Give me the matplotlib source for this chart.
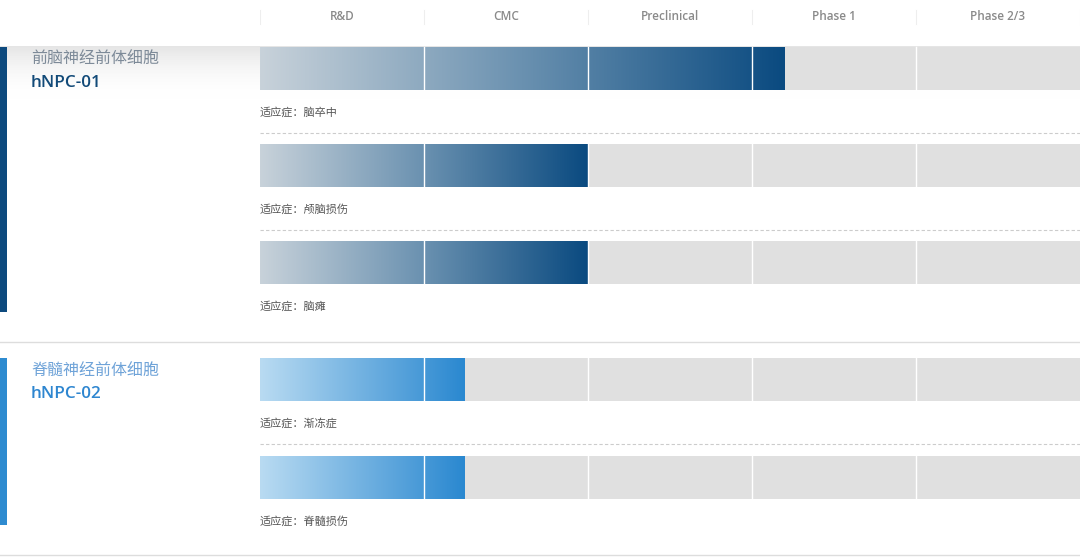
import matplotlib.pyplot as plt
import numpy as np
from matplotlib.colors import LinearSegmentedColormap

plt.rcParams['font.family'] = ['Noto Sans CJK SC', 'DejaVu Sans']

# data
stages = ["R&D", "CMC", "Preclinical", "Phase 1", "Phase 2/3"]
names_cn = ["前脑神经前体细胞", "脊髓神经前体细胞"]
codes = ["hNPC-01", "hNPC-02"]
indications = ["脑卒中", "颅脑损伤", "脑瘫", "渐冻症", "脊髓损伤"]
row_group = [0, 0, 0, 1, 1]
progress = [3.2, 2.0, 2.0, 1.25, 1.25]

# style
W, H = 1080, 558
name_colors = ["#7d8a98", "#6fa3d8"]
code_colors = ["#124a78", "#2e86d0"]
side_colors = ["#0d4a7e", "#2e8bd0"]
grad_maps = [
    LinearSegmentedColormap.from_list("g1", ["#c8d2da", "#6a91b0", "#0a4a80"]),
    LinearSegmentedColormap.from_list("g2", ["#b9dbf2", "#2a88d0"]),
]
bar_tops = [47, 144, 241, 358, 456]
bar_h = 43
group_span = [(47, 312), (358, 525)]

fig = plt.figure(figsize=(W / 100, H / 100), dpi=100)
fig.patch.set_facecolor("white")

# background / layout axes in pixel coordinates
ax = fig.add_axes([0, 0, 1, 1])
ax.set_xlim(0, W)
ax.set_ylim(H, 0)
ax.axis("off")

# header shadow
shade = np.linspace(1, 0, 64).reshape(-1, 1)
ax.imshow(shade, extent=(0, W, 100, 46), cmap=LinearSegmentedColormap.from_list(
    "sh", [(1, 1, 1, 0), (0.9, 0.9, 0.9, 1)]), aspect="auto", vmin=0, vmax=1, zorder=0)

# group separators
ax.plot([0, W], [342, 342], color="#dddddd", lw=1)
ax.plot([0, W], [555, 555], color="#dddddd", lw=1)

for g in range(2):
    y0, y1 = group_span[g]
    ax.fill_between([0, 7], y0, y1, color=side_colors[g], lw=0, zorder=2)
    ax.text(31, y0 + 12, names_cn[g], fontsize=11.5, color=name_colors[g], va="center", ha="left")
    ax.text(31, y0 + 36, codes[g], fontsize=12.3, color=code_colors[g], va="center", ha="left",
            family=["Open Sans", "DejaVu Sans"], fontweight="semibold")

# bars axes, x in stage units
bx = fig.add_axes([260 / W, 0, 820 / W, 1])
bx.set_xlim(0, len(stages))
bx.set_ylim(H, 0)
bx.axis("off")
bx.patch.set_alpha(0)

for i, s in enumerate(stages):
    bx.text(i + 0.5, 17, s, ha="center", va="center", fontsize=8.5, color="#8a8a8a",
            family=["Open Sans", "DejaVu Sans"], fontweight="semibold")
for i in range(len(stages) + 1):
    bx.plot([i, i], [10, 24], color="#eeeeee", lw=0.8)

grad = np.linspace(0, 1, 256).reshape(1, -1)
for r, ind in enumerate(indications):
    top = bar_tops[r]
    g = row_group[r]
    bx.fill_between([0, len(stages)], top, top + bar_h, color="#e0e0e0", lw=0, zorder=1)
    bx.imshow(grad, extent=(0, progress[r], top + bar_h, top), cmap=grad_maps[g],
              aspect="auto", zorder=2)
    for i in range(1, len(stages)):
        bx.plot([i, i], [top, top + bar_h], color="white", lw=1, zorder=3)
    bx.text(0, top + 65, "适应症：" + ind, fontsize=8, color="#555555", va="center", ha="left")
    if r in (0, 1, 3):
        bx.plot([0, len(stages)], [top + 86, top + 86], color="#cccccc", lw=0.8,
                ls=(0, (3, 2)), zorder=1)

bx.set_xlim(0, len(stages))
bx.set_ylim(H, 0)

fig.savefig("out.png", dpi=100, facecolor="white")
